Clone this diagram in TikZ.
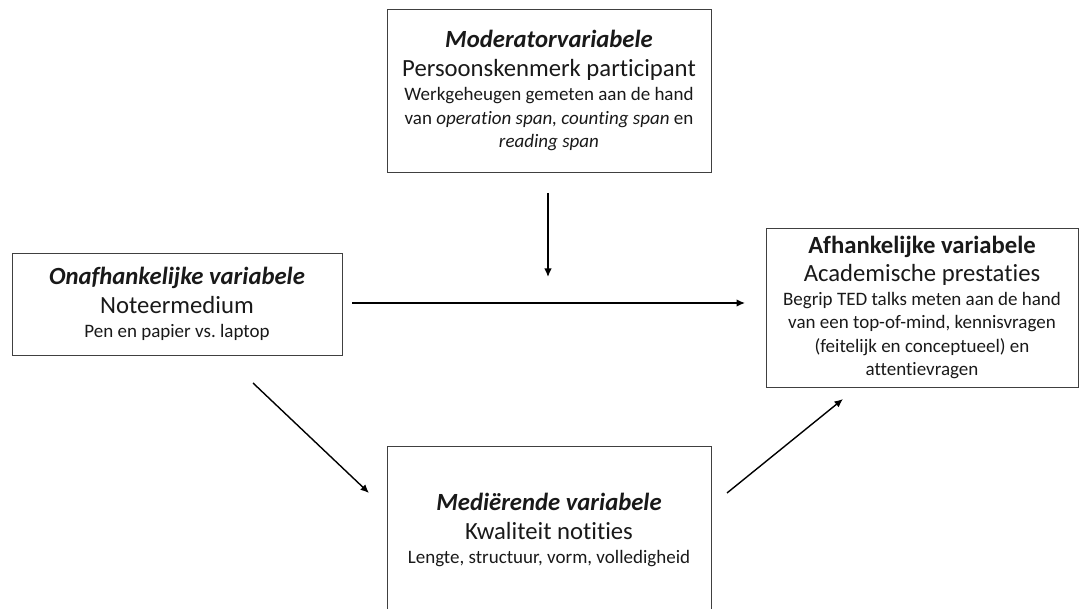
\documentclass[tikz,border=0pt]{standalone}
\usepackage{fontspec}
\setmainfont{Carlito}[Ligatures=NoCommon]
\usetikzlibrary{arrows.meta}
\frenchspacing
\newcommand{\grootfont}{\fontsize{24.7}{24.7}\selectfont}
\newcommand{\kleinfont}{\fontsize{19}{23.5}\selectfont}

\begin{document}
\begin{tikzpicture}[x=1pt,y=-1pt]
\tikzstyle{varbox}=[draw=black!75,line width=0.8pt,align=center,inner sep=0pt,font=\kleinfont,text=black!90]
\tikzstyle{pijl}=[-{Latex[length=8.5pt,width=7.5pt]},line width=1.4pt]
\clip (0,0) rectangle (1080,609);
\node[varbox,minimum width=324pt,minimum height=163pt] (moderator) at (549,90.5)
{{\grootfont\textbf{\textit{Moderatorvariabele}}}\\[5pt]
{\grootfont Persoonskenmerk participant}\\[1pt]
Werkgeheugen gemeten aan de hand\\
van \textit{operation span, counting span} en\\
\textit{reading span}};
\node[varbox,minimum width=330pt,minimum height=102pt] (onafhankelijk) at (177,304)
{{\grootfont\textbf{\textit{Onafhankelijke variabele}}}\\[5pt]
{\grootfont Noteermedium}\\[1pt]
Pen en papier vs. laptop};
\node[varbox,minimum width=312pt,minimum height=159pt] (afhankelijk) at (922,307.5)
{{\grootfont\textbf{Afhankelijke variabele}}\\[5pt]
{\grootfont Academische prestaties}\\[0pt]
Begrip TED talks meten aan de hand\\
van een top-of-mind, kennisvragen\\
(feitelijk en conceptueel) en\\
attentievragen};
\node[varbox,minimum width=324pt,minimum height=168pt] (mediator) at (549,530)
{{\grootfont\textbf{\textit{Mediërende variabele}}}\\[5pt]
{\grootfont Kwaliteit notities}\\[1pt]
Lengte, structuur, vorm, volledigheid};
% pijlen tussen de variabelen
\coordinate (modbegin) at (548,193);
\coordinate (modeind) at (548,277);
\coordinate (hoofdbegin) at (352,303);
\coordinate (hoofdeind) at (745,303);
\coordinate (mediabegin) at (253,383);
\coordinate (mediaeind) at (369,493);
\coordinate (effectbegin) at (727,493);
\coordinate (effecteind) at (843,399);
\draw[pijl] (modbegin) -- (modeind);
\draw[pijl] (hoofdbegin) -- (hoofdeind);
\draw[pijl] (mediabegin) -- (mediaeind);
\draw[pijl] (effectbegin) -- (effecteind);
\end{tikzpicture}
\end{document}
